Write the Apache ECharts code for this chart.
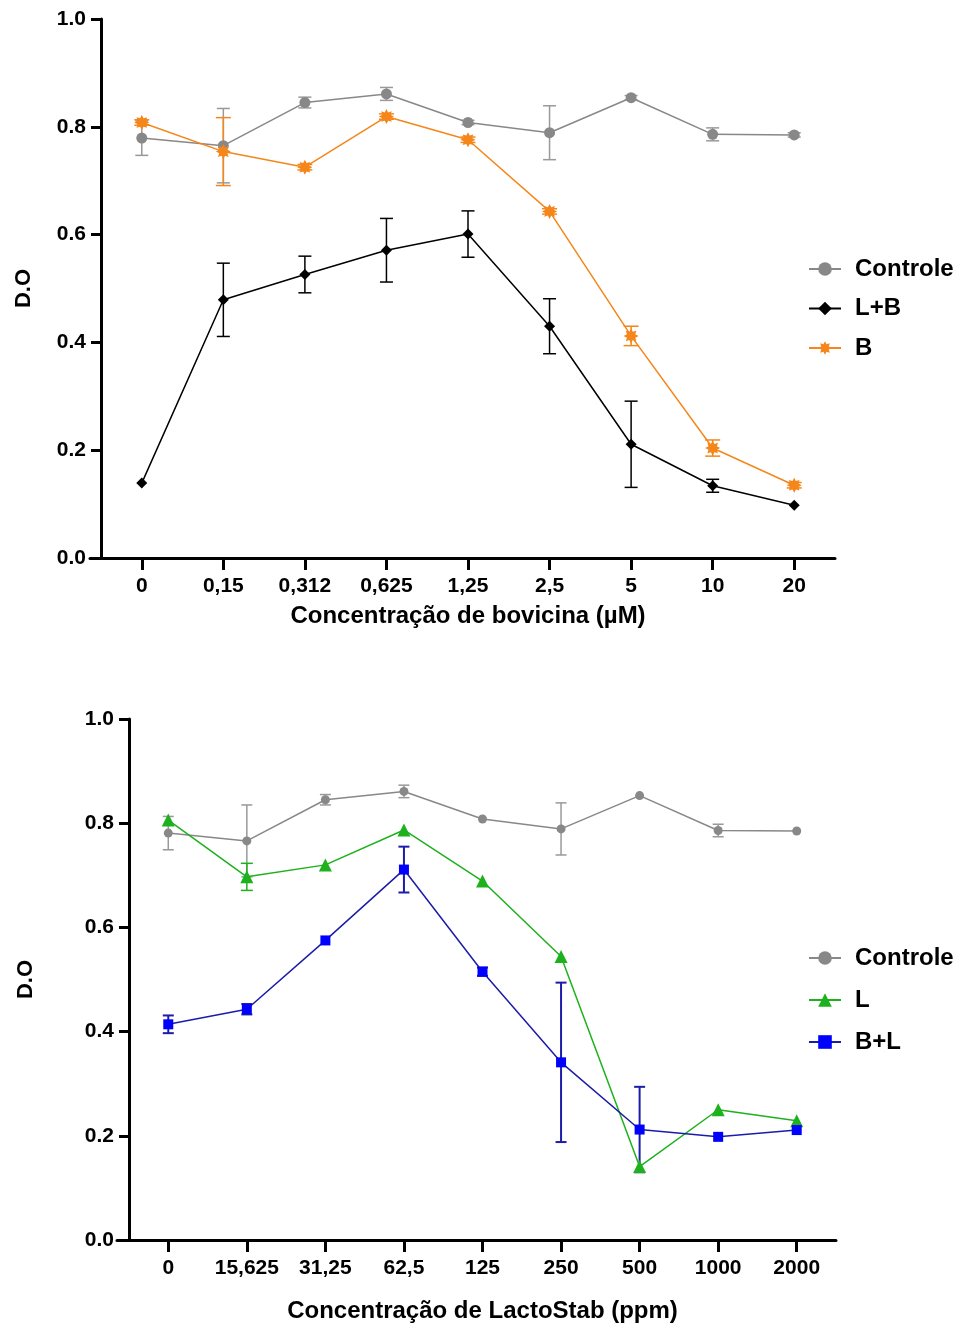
<!DOCTYPE html>
<html>
<head>
<meta charset="utf-8">
<script src="https://cdn.jsdelivr.net/npm/echarts@6/dist/echarts.min.js"></script>
<style>
html,body{margin:0;padding:0;background:#fff;}
#c{width:965px;height:1325px;}
</style>
</head>
<body>
<div id="c"></div>
<script>
// ---------- DATA ----------
const catTop = ['0','0,15','0,312','0,625','1,25','2,5','5','10','20'];
const catBot = ['0','15,625','31,25','62,5','125','250','500','1000','2000'];
const yTicks = [0.0, 0.2, 0.4, 0.6, 0.8, 1.0];

const controleTop    = [0.779,0.765,0.845,0.861,0.808,0.789,0.854,0.786,0.785];
const controleTopErr = [0.032,0.069,0.010,0.012,0.004,0.050,0.004,0.012,0.004];
const lbTop          = [0.139,0.479,0.526,0.571,0.601,0.430,0.211,0.134,0.098];
const lbTopErr       = [0,0.068,0.034,0.059,0.043,0.051,0.080,0.012,0];
const bTop           = [0.808,0.754,0.725,0.819,0.776,0.643,0.412,0.204,0.135];
const bTopErr        = [0.005,0.063,0.005,0.005,0.005,0.005,0.018,0.015,0.005];

const controleBot    = [0.781,0.766,0.845,0.861,0.808,0.789,0.853,0.786,0.785];
const controleBotErr = [0.032,0.069,0.010,0.012,0,0.050,0,0.012,0];
const lBot           = [0.806,0.697,0.720,0.787,0.689,0.544,0.141,0.250,0.229];
const lBotErr        = [0,0.026,0,0,0,0,0,0,0];
const blBot          = [0.414,0.443,0.575,0.711,0.515,0.341,0.212,0.198,0.211];
const blBotErr       = [0.017,0.010,0,0.044,0.008,0.153,0.082,0,0];

// ---------- STYLE ----------
const FONT = "'Liberation Sans', Arial, sans-serif";
const GRAY = '#888888', BLACK = '#000000', ORANGE = '#F5861A', GREEN = '#1DB11D', BLUE_L = '#1c1ca8', BLUE_M = '#0000ff';

function starPath(n, R, r){
  let d = '';
  for (let i = 0; i < 2*n; i++){
    const ang = Math.PI * i / n - Math.PI/2;
    const rad = (i % 2 === 0) ? R : r;
    const x = (rad*Math.cos(ang)).toFixed(2), y = (rad*Math.sin(ang)).toFixed(2);
    d += (i === 0 ? 'M' : 'L') + x + ' ' + y + ' ';
  }
  return 'path://' + d + 'Z';
}
const ASTER = starPath(8, 10, 6);

function errData(vals, errs){
  return vals.map((v,i) => [i, v - errs[i], v + errs[i], errs[i]]);
}
function errSeries(vals, errs, color, xi, yi, cap, w){
  return {
    type:'custom', xAxisIndex:xi, yAxisIndex:yi, z:1, silent:true,
    data: errData(vals, errs),
    encode:{x:0, y:[1,2]},
    renderItem: function(params, api){
      if (api.value(3) <= 0) return null;
      const lo = api.coord([api.value(0), api.value(1)]);
      const hi = api.coord([api.value(0), api.value(2)]);
      const s = {stroke: color, lineWidth: w};
      return {type:'group', children:[
        {type:'line', shape:{x1:lo[0], y1:lo[1], x2:hi[0], y2:hi[1]}, style:s},
        {type:'line', shape:{x1:lo[0]-cap/2, y1:lo[1], x2:lo[0]+cap/2, y2:lo[1]}, style:s},
        {type:'line', shape:{x1:hi[0]-cap/2, y1:hi[1], x2:hi[0]+cap/2, y2:hi[1]}, style:s}
      ]};
    }
  };
}
function lineSeries(name, vals, color, mcolor, symbol, size, xi, yi, lw){
  return {
    name, type:'line', xAxisIndex:xi, yAxisIndex:yi, z:3,
    data: vals, symbol, symbolSize:size, showSymbol:true,
    lineStyle:{color, width:lw}, itemStyle:{color:mcolor, borderWidth:0},
    emphasis:{disabled:true}
  };
}

const axisLineStyle = {show:true, lineStyle:{color:'#000', width:3}};
function xAxisMain(grid, cats, name, nameGap){
  return {
    type:'category', gridIndex:grid, data:cats, boundaryGap:true,
    axisLine: axisLineStyle,
    axisTick:{show:true, alignWithLabel:true, length:12, lineStyle:{color:'#000', width:3}},
    axisLabel:{fontFamily:FONT, fontWeight:'bold', fontSize:21, color:'#000', margin:18, interval:0},
    splitLine:{show:false},
    name, nameLocation:'middle', nameGap,
    nameTextStyle:{fontFamily:FONT, fontWeight:'bold', fontSize:24, color:'#000'}
  };
}
function yAxisMain(grid, nameGap){
  return {
    type:'value', gridIndex:grid, min:yTicks[0], max:yTicks[yTicks.length-1], interval:0.2,
    axisLine: axisLineStyle,
    axisTick:{show:true, length:10, lineStyle:{color:'#000', width:3}},
    axisLabel:{fontFamily:FONT, fontWeight:'bold', fontSize:21, color:'#000', margin:15,
      formatter: v => v.toFixed(1)},
    splitLine:{show:false},
    name:'D.O', nameLocation:'middle', nameGap, nameRotate:90,
    nameTextStyle:{fontFamily:FONT, fontWeight:'bold', fontSize:22, color:'#000'}
  };
}
function extX(grid){
  return {type:'category', gridIndex:grid, data:[''], axisLine:axisLineStyle,
    axisTick:{show:false}, axisLabel:{show:false}, splitLine:{show:false}};
}
function extY(grid){
  return {type:'value', gridIndex:grid, min:0, max:1, show:false};
}

const legendText = {fontFamily:FONT, fontWeight:'bold', fontSize:24, color:'#000', padding:[0,0,0,9]};

const option = {
  animation:false,
  backgroundColor:'#fff',
  grid:[
    {left:101, top:19, width:734, height:539},
    {left:129, top:719, width:707, height:521},
    {left:90, top:19, width:11, height:539},
    {left:117, top:719, width:12, height:521}
  ],
  xAxis:[
    xAxisMain(0, catTop, 'Concentração de bovicina (µM)', 46),
    xAxisMain(1, catBot, 'Concentração de LactoStab (ppm)', 59),
    extX(2), extX(3)
  ],
  yAxis:[
    yAxisMain(0, 66), yAxisMain(1, 92), extY(2), extY(3)
  ],
  legend:[
    {orient:'vertical', left:803, top:252, itemWidth:32, itemHeight:17, itemGap:15.5,
      data:['Controle','L+B','B'], textStyle:legendText, selectedMode:false},
    {orient:'vertical', left:803, top:941, itemWidth:32, itemHeight:17, itemGap:18,
      data:['Controle ','L','B+L'], textStyle:legendText, selectedMode:false,
      formatter: n => n.trim()}
  ],
  series:[
    errSeries(controleTop, controleTopErr, '#999999', 0, 0, 13, 1.5),
    errSeries(bTop, bTopErr, ORANGE, 0, 0, 15, 1.5),
    errSeries(lbTop, lbTopErr, BLACK, 0, 0, 13, 1.5),
    lineSeries('Controle', controleTop, GRAY, GRAY, 'circle', 11, 0, 0, 1.5),
    lineSeries('L+B', lbTop, BLACK, BLACK, 'diamond', 11, 0, 0, 1.5),
    lineSeries('B', bTop, ORANGE, ORANGE, ASTER, 15, 0, 0, 1.5),

    errSeries(controleBot, controleBotErr, '#999999', 1, 1, 11, 1.5),
    errSeries(lBot, lBotErr, GREEN, 1, 1, 12, 1.5),
    errSeries(blBot, blBotErr, BLUE_L, 1, 1, 11, 2),
    lineSeries('Controle ', controleBot, GRAY, GRAY, 'circle', 9, 1, 1, 1.5),
    lineSeries('L', lBot, GREEN, GREEN, 'triangle', 13, 1, 1, 1.5),
    lineSeries('B+L', blBot, BLUE_L, BLUE_M, 'rect', 10, 1, 1, 1.5)
  ]
};
const chart = echarts.init(document.getElementById('c'));
chart.setOption(option);
</script>
</body>
</html>
